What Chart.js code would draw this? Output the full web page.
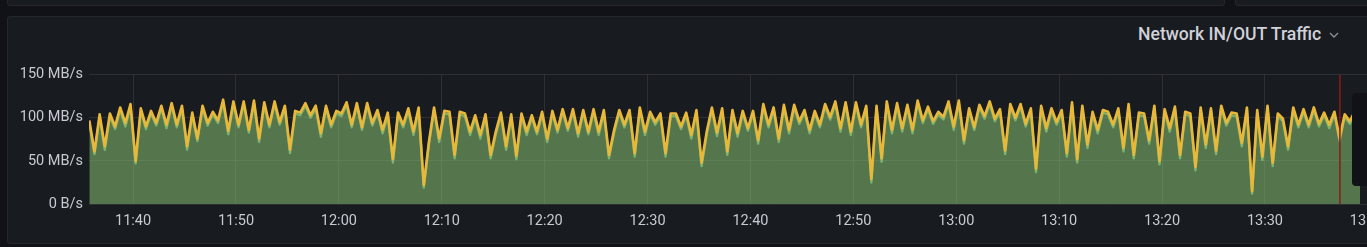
<!DOCTYPE html>
<html lang="en">
<head>
<meta charset="UTF-8">
<title>Network IN/OUT Traffic</title>
<script src="https://cdn.jsdelivr.net/npm/chart.js"></script>
<style>
  html, body { margin: 0; padding: 0; background: #111217; width: 1367px; height: 247px; overflow: hidden; }
  .panel { position: absolute; background: #181b1f; border: 1px solid #25272d; border-radius: 3px; box-sizing: border-box; }
  #top1 { left: 7px; top: -20px; width: 1218px; height: 26px; }
  #top2 { left: 1235px; top: -20px; width: 200px; height: 26px; }
  #main { left: 7px; top: 16px; width: 1460px; height: 228px; }
  #title { position: absolute; left: 1138px; top: 24px; font: 500 17.6px Roboto, sans-serif; color: #d0d1d9; white-space: nowrap; }
  #chev { position: absolute; left: 1329px; top: 32px; }
  #wrap { position: absolute; left: 0; top: 60px; }
  #tip { position: absolute; left: 1352px; top: 93px; width: 40px; height: 93px; background: #111217; border-radius: 4px; }
</style>
</head>
<body>
<div class="panel" id="top1"></div>
<div class="panel" id="top2"></div>
<div class="panel" id="main"></div>
<div id="title">Network IN/OUT Traffic</div>
<svg id="chev" width="10" height="6"><polyline points="1,1 5,5 9,1" fill="none" stroke="#8e9097" stroke-width="1.3"/></svg>
<div id="wrap"><canvas id="traffic" width="1450" height="187"></canvas></div>
<div id="tip"></div>

<script>
// time range shown and sample step
const X_MIN = '11:35:43';
const X_MAX = '13:47:59';
const FIRST_SAMPLE = '11:35:45';
const STEP_SEC = 30;
const MARKER_TIME = '13:37:17';

// OUT traffic (yellow), MB/s
const outTraffic = [
  97,61,104,67,105,90,112,94,116,50,111,90,108,94,114,92,117,92,114,67,106,76,114,94,107,97,121,85,119,92,119,86,120,76,118,92,119,95,114,63,108,106,117,
  103,114,82,114,92,108,105,118,92,117,89,117,94,109,86,106,52,106,92,111,84,112,22,72,112,76,108,107,57,107,105,84,103,80,104,57,84,106,67,104,56,105,
  84,103,84,107,76,108,86,110,88,110,82,109,84,110,84,109,57,86,109,92,109,59,112,84,107,95,105,59,105,105,90,106,80,109,48,84,112,83,111,61,109,
  82,108,88,108,74,116,92,112,76,115,86,115,96,109,86,108,92,116,101,119,88,118,84,118,92,114,29,114,53,119,86,117,88,115,86,120,97,113,96,107,101,119,
  90,120,74,111,89,115,102,119,99,110,62,116,100,116,93,111,41,114,88,111,95,109,59,118,52,114,69,107,86,109,107,92,111,65,116,57,106,105,74,114,50,
  110,88,113,57,107,105,43,112,69,111,62,114,94,106,105,71,112,15,109,55,114,48,105,99,67,112,92,110,92,112,93,106,92,107,77,104,96,108,100
];

// IN traffic (green), MB/s
const inTraffic = [
  94,58,101,63,102,87,109,90,113,47,108,87,105,91,111,88,114,89,111,63,103,73,111,91,104,94,118,81,116,89,116,83,117,72,115,89,116,92,111,59,105,103,114,
  100,111,78,111,89,105,102,115,89,114,86,114,91,106,82,103,48,103,89,108,80,109,19,69,109,72,105,104,53,104,102,80,100,76,101,53,81,103,63,101,52,102,
  80,100,81,104,72,105,83,107,85,107,78,106,81,107,80,106,53,83,106,89,106,55,109,80,104,92,102,55,102,102,87,103,76,106,44,81,109,79,108,57,106,
  78,105,85,105,70,113,89,109,72,112,82,112,93,106,82,105,89,113,98,116,84,115,80,115,89,111,25,111,49,116,82,114,84,112,82,117,94,110,93,104,98,116,
  86,117,70,108,86,112,99,116,96,107,58,113,97,113,90,108,37,111,84,108,92,106,55,115,48,111,65,104,82,106,104,89,108,61,113,53,103,102,70,111,46,
  107,84,110,53,104,102,39,109,65,108,58,111,91,103,102,67,109,12,106,51,111,44,102,96,63,109,89,107,89,109,90,103,88,104,73,101,93,105,97
];

function toMin(s) {
  const p = s.split(':').map(Number);
  return p[0] * 60 + p[1] + (p[2] || 0) / 60;
}
function fmtTime(v) {
  const h = Math.floor(v / 60), m = Math.round(v % 60);
  return String(h).padStart(2, '0') + ':' + String(m).padStart(2, '0');
}

const t0 = toMin(FIRST_SAMPLE);
const toPoints = arr => arr.map((v, i) => ({ x: t0 + i * STEP_SEC / 60, y: v }));

// red annotation line
const markerLine = {
  id: 'markerLine',
  afterDatasetsDraw(chart) {
    const { ctx, chartArea, scales } = chart;
    const x = scales.x.getPixelForValue(toMin(MARKER_TIME));
    ctx.save();
    ctx.strokeStyle = '#8b1c17';
    ctx.lineWidth = 1.5;
    ctx.beginPath();
    ctx.moveTo(x, chartArea.top);
    ctx.lineTo(x, chartArea.bottom);
    ctx.stroke();
    ctx.restore();
  }
};

const tickFont = { family: 'Roboto', size: 14.5 };
const gridColor = 'rgba(204,204,220,0.12)';

new Chart(document.getElementById('traffic'), {
  type: 'line',
  data: {
    datasets: [
      {
        label: 'OUT',
        data: toPoints(outTraffic),
        borderColor: '#EAB839',
        borderWidth: 2.6,
        borderJoinStyle: 'round',
        fill: false,
        pointRadius: 0,
        tension: 0
      },
      {
        label: 'IN',
        data: toPoints(inTraffic),
        borderColor: '#7EB26D',
        backgroundColor: 'rgba(126,178,109,0.6)',
        borderWidth: 2.4,
        borderJoinStyle: 'round',
        fill: 'origin',
        pointRadius: 0,
        tension: 0
      }
    ]
  },
  options: {
    responsive: false,
    animation: false,
    devicePixelRatio: 1,
    layout: { padding: { top: 13, right: 0, bottom: 0, left: 0 } },
    plugins: { legend: { display: false }, tooltip: { enabled: false } },
    scales: {
      x: {
        type: 'linear',
        min: toMin(X_MIN),
        max: toMin(X_MAX),
        grid: { color: gridColor, drawTicks: false },
        border: { display: false },
        ticks: {
          stepSize: 10,
          includeBounds: false,
          maxRotation: 0,
          autoSkip: false,
          padding: 9,
          color: '#c7cad1',
          font: tickFont,
          callback: v => fmtTime(v)
        },
        afterFit: s => { s.height = 43; }
      },
      y: {
        min: 0,
        max: 150,
        grid: { color: gridColor, drawTicks: false },
        border: { display: false },
        ticks: {
          stepSize: 50,
          padding: 6,
          color: '#c7cad1',
          font: tickFont,
          callback: v => v === 0 ? '0 B/s' : v + ' MB/s'
        },
        afterFit: s => { s.width = 89; }
      }
    }
  },
  plugins: [markerLine]
});
</script>
</body>
</html>
